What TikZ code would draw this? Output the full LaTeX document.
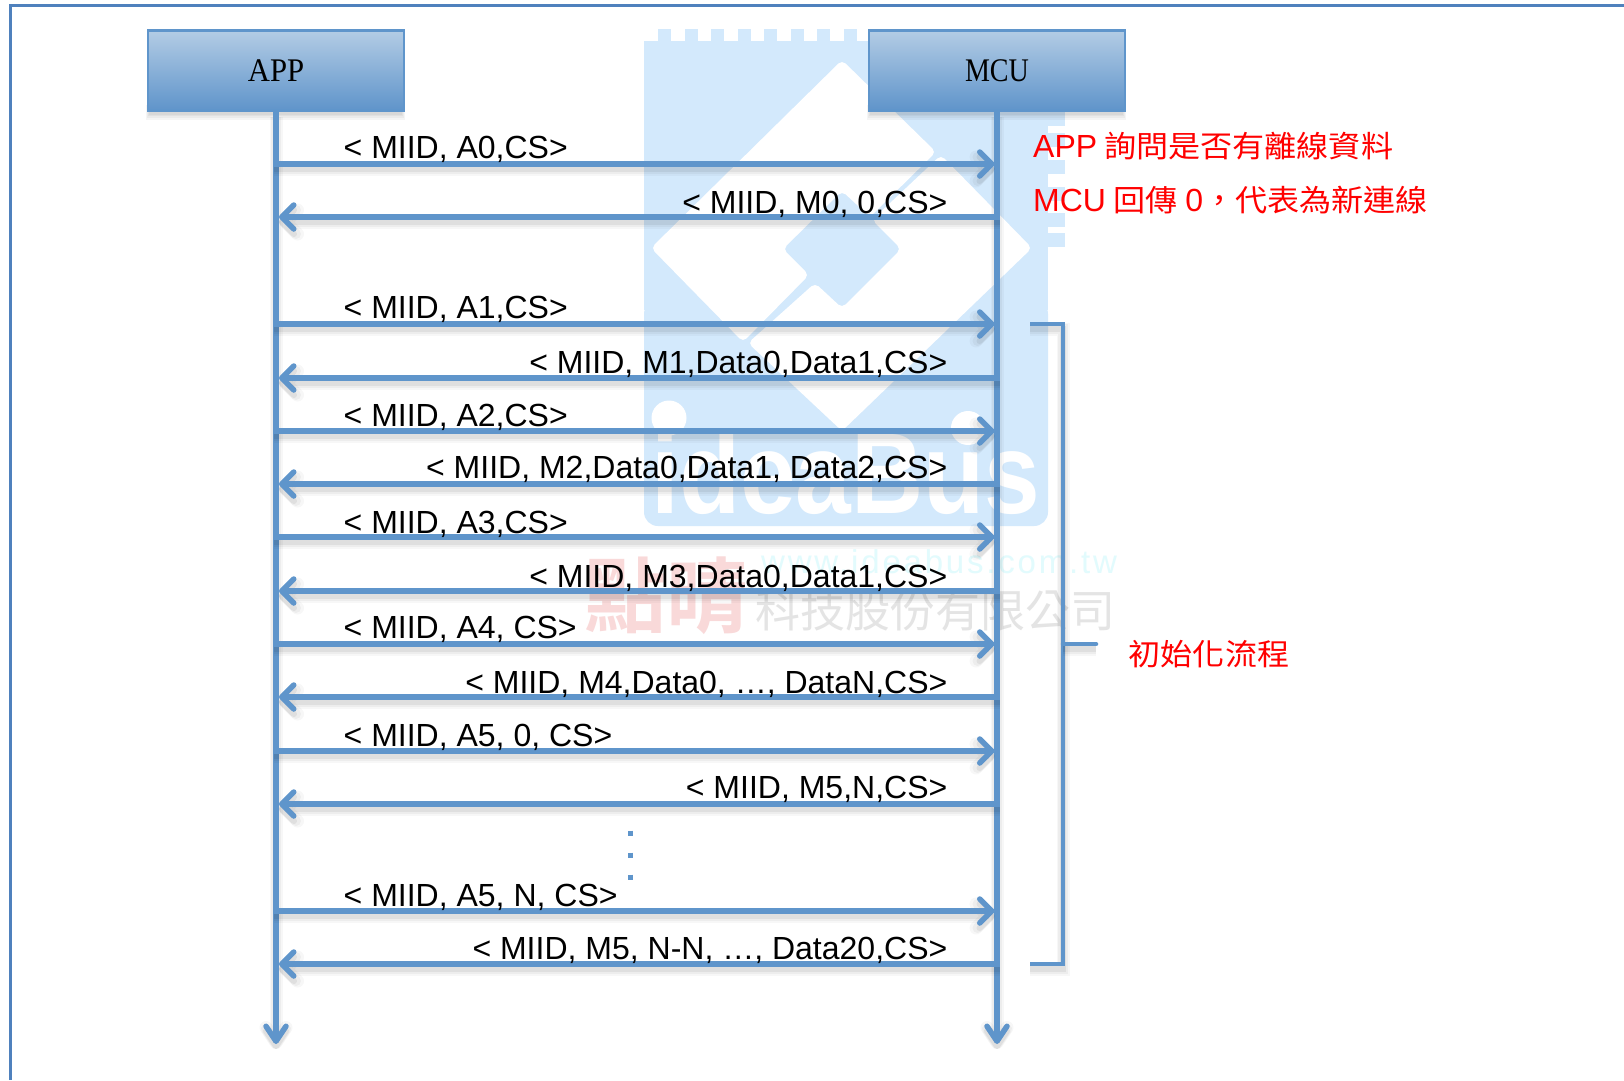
\documentclass[tikz,border=0pt]{standalone}
\usepackage{fontspec}
\usetikzlibrary{arrows.meta,calc}
\setmainfont{Liberation Sans}
\newfontfamily\cjk[FakeStretch=1.07]{Noto Sans CJK TC}
\newfontfamily\cjkp{Noto Sans CJK TC}
\newfontfamily\cjkb{Noto Sans CJK TC Bold}
\newfontfamily\headf[FakeStretch=0.93]{Liberation Serif}
\newfontfamily\headg[FakeStretch=0.85]{Liberation Serif}
\newfontfamily\wmbold[FakeStretch=0.87]{Liberation Sans Bold}
\newfontfamily\wmurl[LetterSpace=8.5]{Liberation Sans}
\newcommand{\redcjk}[1]{{\cjk\fontsize{30}{36}\selectfont #1}}
\definecolor{lineblue}{HTML}{5F95CB}
\definecolor{boxtop}{HTML}{B3CCE5}
\definecolor{boxbot}{HTML}{5F94CA}
\definecolor{framec}{HTML}{4F81BD}
\definecolor{chip}{HTML}{D3E9FC}
\definecolor{wmurlc}{HTML}{E2FBFD}
\definecolor{wmpink}{HTML}{F9D9D9}
\definecolor{wmgrey}{HTML}{E4E4E4}
\tikzset{
  x=1pt,y=-1pt,
  softshadow/.style={
    preaction={draw=black,opacity=.03,line width=13pt,transform canvas={yshift=-5pt}},
    preaction={draw=black,opacity=.04,line width=10pt,transform canvas={yshift=-5pt}},
    preaction={draw=black,opacity=.06,line width=6pt,transform canvas={yshift=-5pt}}},
  linkline/.style={draw=lineblue,line width=5.5pt,line cap=butt},
  msg/.style={linkline,softshadow,arrows={-Straight Barb[length=12pt,width=24pt,round]}},
  msgback/.style={linkline,softshadow,arrows={-Straight Barb[length=12pt,width=24pt,round]}},
  lifeline/.style={linkline,softshadow,arrows={-Straight Barb[length=15pt,width=20pt,round]}},
  bracket/.style={draw=lineblue,line width=4.5pt,line join=miter,softshadow},
  headbox/.style={draw=lineblue,line width=2.5pt,top color=boxtop,bottom color=boxbot,minimum width=256pt,minimum height=80pt,inner sep=0,font=\fontsize{33}{36}\selectfont},
  msgtext/.style={inner sep=0,font=\fontsize{32}{36}\selectfont,text=black},
  note/.style={inner sep=0,anchor=base west,text=red,font=\fontsize{32}{36}\selectfont},
  wm/.style={fill=chip,draw=none},
  boxshadow/.style={fill=black,opacity=.04}
}
\begin{document}
\begin{tikzpicture}
\useasboundingbox (0,0) rectangle (1624,1080);
\fill[white] (0,0) rectangle (1624,1080);
% watermark
\fill[wm,rounded corners=14pt] (1048,300) -- (1048,526) -- (644,526) -- (644,300) -- cycle;
\fill[wm] (644,41) rectangle (1048,310);
\foreach \tx in {658,684.5,711,737.5,764,790.5,817,843.5,870} \fill[wm] (\tx,29) rectangle (\tx+13,42);
\foreach \ty in {112,133,160,187,213,233} \fill[wm] (1047,\ty) rectangle (1065,\ty+14);
\fill[white,rounded corners=5pt] (842,60) -- (936,152) -- (870,217) -- (842,191) -- (783,249) -- (809,275) -- (743,342) -- (651,248) -- cycle;
\fill[white,rounded corners=5pt] (941,155) -- (1032,248) -- (842,431) -- (748,343) -- (815,283) -- (842,308) -- (901,249) -- (872,220) -- cycle;
\node[anchor=base west,inner sep=0,text=white,font=\wmbold\fontsize{115}{120}\selectfont] (wmname) at (651,513) {ideaBus};
\fill[white] (669,418) circle (17.5);
\fill[white] (968,428) circle (17);
\node[anchor=base west,inner sep=0,text=wmurlc,font=\wmurl\fontsize{33}{36}\selectfont] (wmurl) at (761,573) {www.ideabus.com.tw};
\node[anchor=center,inner sep=0,text=wmpink,font=\cjkb\fontsize{82}{84}\selectfont] (wmzh) at (666,596) {點晴};
\node[anchor=center,inner sep=0,text=wmgrey,font=\cjkp\fontsize{45}{48}\selectfont] (wmco) at (935,610) {科技股份有限公司};
% frame
\draw[framec,line width=3pt] (10,1080) -- (10,5) -- (1624,5);
% head shadows
\foreach \bx in {147,868}{
  \fill[boxshadow] (\bx-1,105) rectangle (\bx+258,120);
  \fill[boxshadow] (\bx,105) rectangle (\bx+257,118);
  \fill[boxshadow] (\bx+1,105) rectangle (\bx+256,116);
  \fill[boxshadow] (\bx+2,105) rectangle (\bx+255,114.5);
}
\node[headbox] (app) at (276,70.5) {\raisebox{-1pt}{\headf APP}};
\node[headbox] (mcu) at (997,70.5) {\raisebox{-1pt}{\headg MCU}};
% lifelines
\coordinate (append) at (276,1044);
\coordinate (mcuend) at (997,1044);
\draw[lifeline] (app.south) -- (append);
\draw[lifeline] (mcu.south) -- (mcuend);
% messages
\foreach \n/\y/\bl/\lbl in {
  0/164/158/{< MIID, A0,CS>},
  2/324/318.5/{< MIID, A1,CS>},
  4/431/426/{< MIID, A2,CS>},
  6/537/533/{< MIID, A3,CS>},
  8/644/638.5/{< MIID, A4, CS>},
  10/751/746/{< MIID, A5, 0, CS>},
  12/911/906/{< MIID, A5, N, CS>}}{
  \coordinate (a\n) at (274,\y);
  \coordinate (m\n) at (994.5,\y);
  \draw[msg] (a\n) -- (m\n);
  \node[msgtext,anchor=base west] (t\n) at (343.5,\bl) {\lbl};
}
\foreach \n/\y/\bl/\lbl in {
  1/217/213/{< MIID, M0, 0,CS>},
  3/378/373.5/{< MIID, M1,Data0,Data1,CS>},
  5/484/478.5/{< MIID, M2,Data0,Data1, Data2,CS>},
  7/591/587/{< MIID, M3,Data0,Data1,CS>},
  9/697/693/{< MIID, M4,Data0, …, DataN,CS>},
  11/804/798.5/{< MIID, M5,N,CS>},
  13/964/959.5/{< MIID, M5, N-N, …, Data20,CS>}}{
  \coordinate (a\n) at (279,\y);
  \coordinate (m\n) at (999.5,\y);
  \draw[msgback] (m\n) -- (a\n);
  \node[msgtext,anchor=base east] (t\n) at (947.5,\bl) {\lbl};
}
% ellipsis
\coordinate (dota) at (630,830.5);
\coordinate (dotb) at (630,880);
\draw[draw=lineblue,line width=5pt,dash pattern=on 5pt off 17pt] (dota) -- (dotb);
% bracket
\coordinate (brtop) at (1030,324);
\coordinate (brtopc) at (1063,324);
\coordinate (brbot) at (1030,964);
\coordinate (brbotc) at (1063,964);
\coordinate (brmid) at (1063,644);
\coordinate (brtip) at (1096,644);
\draw[bracket] (brtop) -- (brtopc) -- (brbotc) -- (brbot);
\draw[bracket,line cap=round] (brmid) -- (brtip);
% notes
\node[note] (n1) at (1033,157) {APP\hspace{7pt}\redcjk{詢問是否有離線資料}};
\node[note] (n2) at (1033,211.5) {MCU\hspace{7pt}\redcjk{回傳}\hspace{8pt}0\redcjk{，代表為新連線}};
\node[inner sep=0,text=red,font=\cjk\fontsize{30}{36}\selectfont] (n3) at (1209,654) {初始化流程};
\end{tikzpicture}
\end{document}
